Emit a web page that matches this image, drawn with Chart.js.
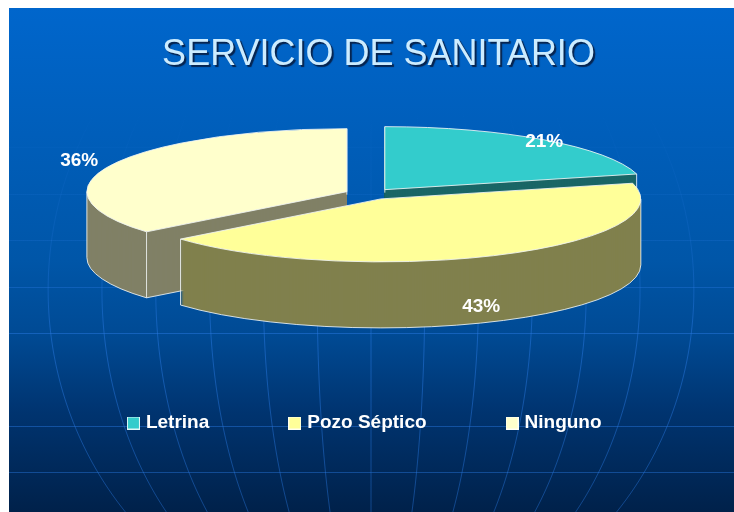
<!DOCTYPE html>
<html><head><meta charset="utf-8">
<style>html,body{margin:0;padding:0;background:#fff}canvas{display:block}</style>
<script src="https://cdn.jsdelivr.net/npm/chart.js@4"></script>
</head><body>
<div style="width:734px;height:512px"><canvas id="c" width="734" height="512"></canvas></div>
<script>
const chartTitle = 'SERVICIO DE SANITARIO';
const categories = ['Letrina', 'Pozo Séptico', 'Ninguno'];
const values = [21, 43, 36];
const topColors = ['#33CCCC', '#FFFF99', '#FFFFCC'];
const sideColors = ['#1A6666', '#80804D', '#808066'];

// Look of the tilted pie (not data)
const CX = 369.5, CY = 194, RX = 260, RY = 63, DEPTH = 66, EXPLODE_X = 25, EXPLODE_Y = 5.5;
const drawOrder = [0, 2, 1];
const labelPlace = [{f: 1.0, dy: 2}, {f: 0.85, dy: 60}, {f: 1.138, dy: 0}];
const gridY = [147, 194, 240, 287, 333, 426, 472];
const EDGE = 'rgba(240,245,245,0.85)';

function sliceCentre(arc) {
  const mid = (arc.startAngle + arc.endAngle) / 2;
  return [CX + Math.cos(mid) * EXPLODE_X, CY + Math.sin(mid) * EXPLODE_Y];
}
function sliceXform(ctx, arc, extraY) {
  const [cx, cy] = sliceCentre(arc);
  ctx.translate(cx, cy + extraY);
  ctx.scale(RX / arc.outerRadius, RY / arc.outerRadius);
  ctx.translate(-arc.x, -arc.y);
}
const tiltedPie = {
  id: 'tiltedPie',
  afterLayout(chart) {
    const t = chart.titleBlock, l = chart.legend;
    if (!t.__wrapped) {
      const d = t.draw;
      t.draw = function () {
        const c = chart.ctx; c.save();
        c.shadowColor = '#06244f'; c.shadowOffsetX = 2; c.shadowOffsetY = 2; c.shadowBlur = 1;
        d.call(t); c.restore();
      };
      t.__wrapped = true;
    }
    t.left += 11.5; t.right += 11.5;
    t.top = 33; t.bottom = t.top + t.height;
    l.left += -1; l.right += -1;
    const h = l.bottom - l.top;
    l.top = 331; l.bottom = l.top + h;
  },
  beforeDraw(chart) {
    const ctx = chart.ctx, W = chart.width, H = chart.height;
    ctx.save();
    ctx.fillStyle = '#ffffff'; ctx.fillRect(0, 0, W, H);
    const g = ctx.createLinearGradient(0, 8, 0, H);
    g.addColorStop(0, '#0066CC');
    g.addColorStop(0.5, '#0056A8');
    g.addColorStop(0.65, '#004A94');
    g.addColorStop(0.8, '#003470');
    g.addColorStop(1, '#00214A');
    ctx.fillStyle = g; ctx.fillRect(9, 8, W - 9, H - 8);
    ctx.beginPath(); ctx.rect(9, 8, W - 9, H - 8); ctx.clip();
    const ln = ctx.createLinearGradient(0, 110, 0, H);
    ln.addColorStop(0, 'rgba(40,120,225,0)');
    ln.addColorStop(0.32, 'rgba(40,120,225,0.22)');
    ln.addColorStop(0.55, 'rgba(40,120,225,0.5)');
    ln.addColorStop(1, 'rgba(40,120,225,0.42)');
    ctx.strokeStyle = ln; ctx.lineWidth = 1;
    gridY.forEach(y => {
      ctx.beginPath(); ctx.moveTo(9, y + 0.5); ctx.lineTo(W, y + 0.5); ctx.stroke();
    });
    for (let k = -6; k <= 6; k++) {
      ctx.beginPath();
      for (let y = 110; y <= H; y += 6) {
        const q = (y - 290) / 342;
        const x = 371 + k * 53.5 * Math.sqrt(1 - q * q) / 0.9942;
        if (y === 110) ctx.moveTo(x, y); else ctx.lineTo(x, y);
      }
      ctx.stroke();
    }
    ctx.restore();
  },
  beforeDatasetsDraw(chart) {
    const ctx = chart.ctx, arcs = chart.getDatasetMeta(0).data;
    drawOrder.forEach(i => {
      const arc = arcs[i], orig = arc.options;
      const [cx, cy] = sliceCentre(arc);
      const look = {offset: 0, spacing: 0, borderWidth: 0, borderAlign: 'center',
        borderJoinStyle: 'round', borderColor: sideColors[i], borderRadius: 0, circular: true,
        backgroundColor: sideColors[i]};
      arc.options = look;
      for (let d = DEPTH; d >= 1; d--) {
        ctx.save(); sliceXform(ctx, arc, d); arc.draw(ctx); ctx.restore();
      }
      // side edges: rim extremes and the corners whose cut face can be seen
      ctx.save();
      ctx.strokeStyle = EDGE; ctx.lineWidth = 1;
      const pt = a => [cx + Math.cos(a) * RX, cy + Math.sin(a) * RY];
      const hasRight = arc.startAngle < 0 && arc.endAngle > 0;
      const hasLeft = arc.startAngle < Math.PI && arc.endAngle > Math.PI;
      const vertical = a => {
        const p = pt(a);
        ctx.beginPath(); ctx.moveTo(p[0], p[1]); ctx.lineTo(p[0], p[1] + DEPTH); ctx.stroke();
      };
      vertical(arc.endAngle);
      if (!hasRight) vertical(arc.startAngle);
      if (hasRight) vertical(0);
      if (hasLeft) vertical(Math.PI);
      // lower edge of a cut face that turns towards the viewer
      if (arc.startAngle > Math.PI / 2 && arc.startAngle < Math.PI) {
        const p = pt(arc.startAngle);
        ctx.beginPath(); ctx.moveTo(p[0], p[1] + DEPTH); ctx.lineTo(cx, cy + DEPTH); ctx.stroke();
      }
      const lo = Math.max(arc.startAngle, 0), hi = Math.min(arc.endAngle, Math.PI);
      if (hi > lo) {
        ctx.beginPath();
        ctx.ellipse(cx, cy + DEPTH, RX, RY, 0, lo, hi);
        ctx.stroke();
      }
      ctx.restore();
      // top face
      arc.options = Object.assign({}, look, {backgroundColor: topColors[i]});
      ctx.save(); sliceXform(ctx, arc, 0); arc.draw(ctx); ctx.restore();
      ctx.save();
      ctx.beginPath();
      ctx.moveTo(cx, cy);
      ctx.ellipse(cx, cy, RX, RY, 0, arc.startAngle, arc.endAngle);
      ctx.closePath();
      ctx.strokeStyle = EDGE; ctx.lineWidth = 1; ctx.stroke();
      ctx.restore();
      arc.options = orig;
    });
    return false;
  },
  afterDraw(chart) {
    const ctx = chart.ctx, arcs = chart.getDatasetMeta(0).data;
    ctx.save();
    ctx.font = 'bold 19px "Liberation Sans", Arial, sans-serif';
    ctx.fillStyle = '#ffffff'; ctx.textAlign = 'center'; ctx.textBaseline = 'middle';
    values.forEach((v, i) => {
      const arc = arcs[i], mid = (arc.startAngle + arc.endAngle) / 2;
      const [cx, cy] = sliceCentre(arc), p = labelPlace[i];
      ctx.fillText(v + '%', cx + Math.cos(mid) * RX * p.f, cy + Math.sin(mid) * RY * p.f + p.dy);
    });
    ctx.restore();
  }
};

function marker(color) {
  const m = document.createElement('canvas');
  m.width = 13; m.height = 13;
  const x = m.getContext('2d');
  x.fillStyle = color; x.fillRect(0, 0, 13, 13);
  x.strokeStyle = 'rgba(255,255,255,0.85)'; x.lineWidth = 1; x.strokeRect(0.5, 0.5, 12, 12);
  return m;
}

new Chart(document.getElementById('c'), {
  type: 'pie',
  data: {
    labels: categories,
    datasets: [{data: values, backgroundColor: topColors, borderWidth: 0}]
  },
  plugins: [tiltedPie],
  options: {
    responsive: false,
    animation: false,
    plugins: {
      tooltip: {enabled: false},
      title: {
        display: true,
        text: chartTitle,
        color: '#CCECFF',
        font: {family: '"Liberation Sans", Arial, sans-serif', size: 36, weight: 'normal'},
        padding: 0
      },
      legend: {
        position: 'bottom',
        labels: {
          color: '#ffffff',
          font: {family: '"Liberation Sans", Arial, sans-serif', size: 19, weight: 'bold'},
          usePointStyle: true,
          pointStyleWidth: 6,
          padding: 82.5,
          generateLabels: () => categories.map((t, i) => ({
            text: t, fillStyle: topColors[i], strokeStyle: '#fff', lineWidth: 0,
            pointStyle: marker(topColors[i]), fontColor: '#ffffff', hidden: false, index: i
          }))
        }
      }
    }
  }
});
</script>
</body></html>
